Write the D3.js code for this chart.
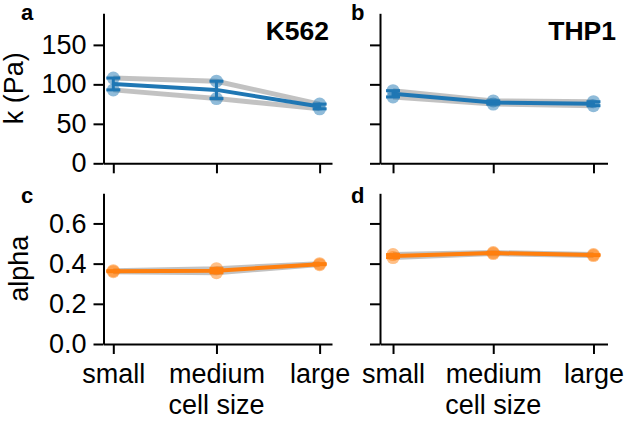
<!DOCTYPE html>
<html>
<head>
<meta charset="utf-8">
<script src="https://cdn.jsdelivr.net/npm/d3@7"></script>
<style>
  body { margin: 0; background: #fff; overflow: hidden; }
  svg { display: block; }
  text { font-family: "Liberation Sans", Arial, sans-serif; fill: #000; }
  .axis path, .axis line { stroke: #000; stroke-width: 2; }
</style>
</head>
<body>
<div id="chart"></div>
<script>
const sizes = ["small", "medium", "large"];

// two replicates per cell line, values at small / medium / large
const k562K = [[108, 104, 75], [93, 82, 69]];
const thp1K = [[92, 79, 78], [84, 75, 73]];
const k562Alpha = [[0.365, 0.375, 0.40], [0.36, 0.355, 0.395]];
const thp1Alpha = [[0.445, 0.455, 0.445], [0.43, 0.45, 0.44]];

const kTicks = [0, 50, 100, 150];
const alphaTicks = [0, 0.2, 0.4, 0.6];

const blue = "#1f77b4";
const orange = "#ff7f0e";

const width = 624, height = 421;
const fontSize = "27px";

const svg = d3.select("#chart").append("svg")
  .attr("width", width)
  .attr("height", height);

const panels = [
  { id: "a", reps: k562K, color: blue, yDomain: [0, 190], ticks: kTicks, fmt: d3.format("d"),
    x: [103.5, 332], xDom: [-0.095, 2.12], y: [163.3, 13.3], labels: true, title: "K562", titleX: 329, xLabel: false },
  { id: "b", reps: thp1K, color: blue, yDomain: [0, 190], ticks: kTicks, fmt: d3.format("d"),
    x: [380, 607.5], xDom: [-0.13, 2.14], y: [163.3, 13.3], labels: false, title: "THP1", titleX: 616, xLabel: false },
  { id: "c", reps: k562Alpha, color: orange, yDomain: [0, 0.75], ticks: alphaTicks, fmt: d3.format(".1f"),
    x: [103.5, 332], xDom: [-0.095, 2.12], y: [344, 193.3], labels: true, title: null, xLabel: true },
  { id: "d", reps: thp1Alpha, color: orange, yDomain: [0, 0.75], ticks: alphaTicks, fmt: d3.format(".1f"),
    x: [380, 607.5], xDom: [-0.13, 2.14], y: [344, 193.3], labels: false, title: null, xLabel: true }
];

panels.forEach(p => {
  const xScale = d3.scaleLinear().domain(p.xDom).range(p.x);
  const yScale = d3.scaleLinear().domain(p.yDomain).range(p.y);
  const g = svg.append("g").attr("class", "panel-" + p.id);

  // axes
  const xAxis = d3.axisBottom(xScale)
    .tickValues([0, 1, 2])
    .tickSizeInner(10)
    .tickSizeOuter(0)
    .tickPadding(10)
    .tickFormat(i => p.xLabel ? sizes[i] : "");
  const yAxis = d3.axisLeft(yScale)
    .tickValues(p.ticks)
    .tickSizeInner(10)
    .tickSizeOuter(0)
    .tickPadding(7)
    .tickFormat(d => p.labels ? p.fmt(d) : "");

  g.append("g").attr("class", "axis")
    .attr("transform", `translate(0,${p.y[0]})`)
    .call(xAxis)
    .selectAll("text").style("font-size", fontSize);
  g.append("g").attr("class", "axis")
    .attr("transform", `translate(${p.x[0]},0)`)
    .call(yAxis)
    .selectAll("text").style("font-size", fontSize);

  // replicate lines (gray)
  const line = d3.line().x((d, i) => xScale(i)).y(d => yScale(d));
  g.selectAll(".rep").data(p.reps).enter().append("path")
    .attr("class", "rep")
    .attr("d", line)
    .attr("fill", "none")
    .attr("stroke", "#a8a8a8")
    .attr("stroke-opacity", 0.7)
    .attr("stroke-width", 5)
    .attr("stroke-linejoin", "round");

  // replicate points
  const pts = [];
  p.reps.forEach(r => r.forEach((v, i) => pts.push({ i, v })));
  g.selectAll(".pt").data(pts).enter().append("circle")
    .attr("class", "pt")
    .attr("cx", d => xScale(d.i))
    .attr("cy", d => yScale(d.v))
    .attr("r", 6.5)
    .attr("fill", p.color)
    .attr("fill-opacity", 0.5);

  // mean + sem
  const stats = sizes.map((s, i) => {
    const vals = p.reps.map(r => r[i]);
    const m = d3.mean(vals);
    const sem = d3.deviation(vals) / Math.sqrt(vals.length);
    return { i, m, lo: m - sem, hi: m + sem };
  });

  g.append("path")
    .datum(stats)
    .attr("d", d3.line().x(d => xScale(d.i)).y(d => yScale(d.m)))
    .attr("fill", "none")
    .attr("stroke", p.color)
    .attr("stroke-width", 4)
    .attr("stroke-linejoin", "round");

  const eb = g.selectAll(".eb").data(stats).enter().append("g").attr("class", "eb");
  eb.append("line")
    .attr("x1", d => xScale(d.i)).attr("x2", d => xScale(d.i))
    .attr("y1", d => yScale(d.lo)).attr("y2", d => yScale(d.hi))
    .attr("stroke", p.color).attr("stroke-width", 3);
  [d => d.lo, d => d.hi].forEach(acc => {
    eb.append("line")
      .attr("x1", d => xScale(d.i) - 7).attr("x2", d => xScale(d.i) + 7)
      .attr("y1", d => yScale(acc(d))).attr("y2", d => yScale(acc(d)))
      .attr("stroke", p.color).attr("stroke-width", 3);
  });

  // panel letter
  svg.append("text")
    .attr("x", p.labels ? 21 : 351)
    .attr("y", p.y[1] + (p.id === "a" || p.id === "b" ? 7 : 10))
    .style("font-size", "22px")
    .style("font-weight", "bold")
    .text(p.id);

  if (p.title) {
    svg.append("text")
      .attr("x", p.titleX)
      .attr("y", 40)
      .attr("text-anchor", "end")
      .style("font-size", "26.5px")
      .style("font-weight", "bold")
      .text(p.title);
  }

  if (p.xLabel) {
    svg.append("text")
      .attr("x", xScale(1))
      .attr("y", 414)
      .attr("text-anchor", "middle")
      .style("font-size", fontSize)
      .text("cell size");
  }
});

// y axis labels
svg.append("text")
  .attr("transform", `translate(23,${(163.3 + 13.3) / 2}) rotate(-90)`)
  .attr("text-anchor", "middle")
  .style("font-size", fontSize)
  .text("k (Pa)");
svg.append("text")
  .attr("transform", `translate(28,${(344 + 193.3) / 2}) rotate(-90)`)
  .attr("text-anchor", "middle")
  .style("font-size", fontSize)
  .text("alpha");
</script>
</body>
</html>
